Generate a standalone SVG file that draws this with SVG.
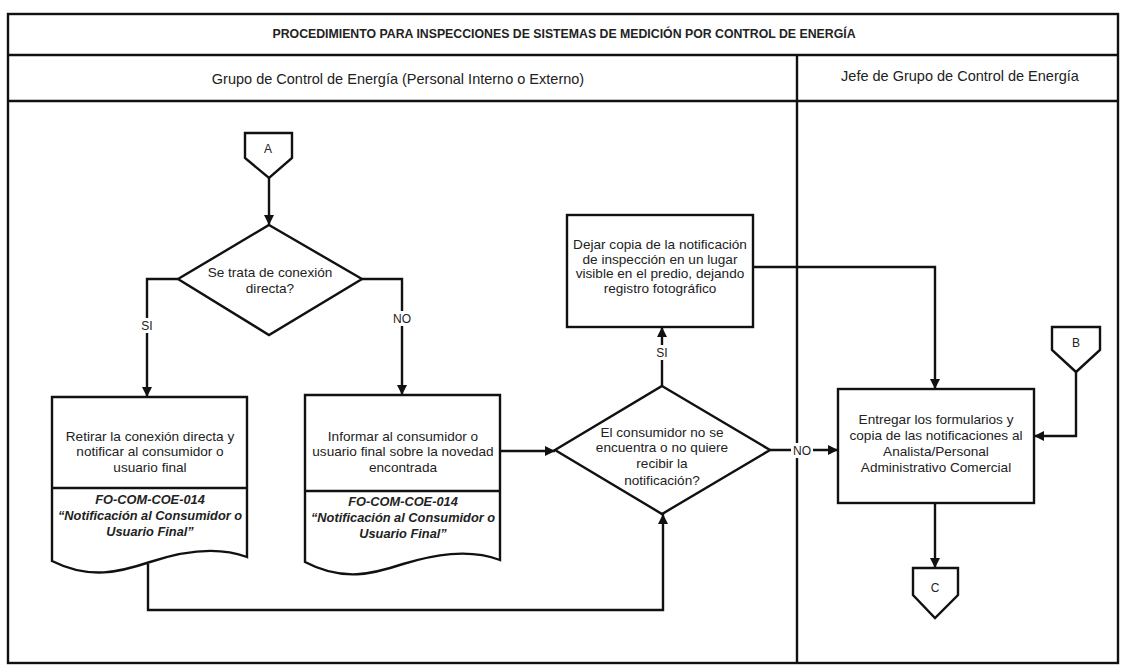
<svg xmlns="http://www.w3.org/2000/svg" width="1123" height="667" viewBox="0 0 1123 667">
<style>
.ln{fill:none;stroke:#111;stroke-width:2.4}
.sh{fill:#fff;stroke:#111;stroke-width:2.4}
.t{font-family:"Liberation Sans",Arial,sans-serif;font-size:13.6px;fill:#222;text-anchor:middle}
.b{font-weight:bold;font-style:italic;font-size:12.8px}
.h{font-family:"Liberation Sans",Arial,sans-serif;font-size:14.5px;fill:#222;text-anchor:middle}
.ttl{font-family:"Liberation Sans",Arial,sans-serif;font-size:12.3px;font-weight:bold;fill:#222;text-anchor:middle}
.lb{font-family:"Liberation Sans",Arial,sans-serif;font-size:12px;fill:#222;text-anchor:middle}
</style>
<defs>
<marker id="ar" viewBox="0 0 10 10" refX="10" refY="5" markerWidth="10" markerHeight="10" markerUnits="userSpaceOnUse" orient="auto">
<path d="M0,0 L10,5 L0,10 Z" fill="#111"/>
</marker>
</defs>
<rect width="1123" height="667" fill="#fff"/>
<g id="frame">
<rect class="ln" x="8" y="14" width="1110" height="649"/>
<line class="ln" x1="8" y1="55" x2="1118" y2="55"/>
<line class="ln" x1="8" y1="101" x2="1118" y2="101"/>
<line class="ln" x1="797" y1="55" x2="797" y2="663"/>
<text class="ttl" x="564" y="38">PROCEDIMIENTO PARA INSPECCIONES DE SISTEMAS DE MEDICIÓN POR CONTROL DE ENERGÍA</text>
<text class="h" x="398" y="84">Grupo de Control de Energía (Personal Interno o Externo)</text>
<text class="h" x="960" y="81">Jefe de Grupo de Control de Energía</text>
</g>
<g id="connectors">
<line class="ln" x1="269" y1="178" x2="269" y2="225" marker-end="url(#ar)"/>
<polyline class="ln" points="178,279 147,279 147,397" marker-end="url(#ar)"/>
<polyline class="ln" points="362,279 402,279 402,395" marker-end="url(#ar)"/>
<line class="ln" x1="500" y1="451" x2="555" y2="451" marker-end="url(#ar)"/>
<polyline class="ln" points="148,564 148,610 663,610 663,514" marker-end="url(#ar)"/>
<line class="ln" x1="662" y1="386" x2="662" y2="327" marker-end="url(#ar)"/>
<line class="ln" x1="770" y1="450" x2="838" y2="450" marker-end="url(#ar)"/>
<polyline class="ln" points="753,267 935,267 935,389" marker-end="url(#ar)"/>
<polyline class="ln" points="1076,372 1076,436 1034,436" marker-end="url(#ar)"/>
<line class="ln" x1="935" y1="503" x2="935" y2="568" marker-end="url(#ar)"/>
<rect x="139" y="318" width="16" height="15" fill="#fff"/>
<text class="lb" x="147" y="330">SI</text>
<rect x="391" y="311" width="22" height="15" fill="#fff"/>
<text class="lb" x="402" y="323">NO</text>
<rect x="654" y="345" width="16" height="15" fill="#fff"/>
<text class="lb" x="662" y="357">SI</text>
<rect x="791" y="443" width="22" height="15" fill="#fff"/>
<text class="lb" x="802" y="455">NO</text>
</g>
<g id="conA">
<path class="sh" d="M245,133 H292 V158 L269,178 L245,158 Z"/>
<text class="lb" x="268" y="153">A</text>
</g>
<g id="dec1">
<path class="sh" d="M269,225 L362,279 L269,335 L178,279 Z"/>
<text class="t" x="270" y="277">Se trata de conexión</text>
<text class="t" x="270" y="293">directa?</text>
</g>
<g id="doc1">
<path class="sh" d="M52,397 H247 V557 C215,545 180,552 150,562 C120,572 90,580 52,561 Z"/>
<line class="ln" x1="52" y1="488" x2="247" y2="488"/>
<text class="t" x="150" y="441">Retirar la conexión directa y</text>
<text class="t" x="150" y="456">notificar al consumidor o</text>
<text class="t" x="150" y="472">usuario final</text>
<text class="t b" x="150" y="504">FO-COM-COE-014</text>
<text class="t b" x="150" y="520">“Notificación al Consumidor o</text>
<text class="t b" x="150" y="536">Usuario Final”</text>
</g>
<g id="doc2">
<path class="sh" d="M305,395 H500 V560 C468,548 433,555 403,564 C373,574 343,582 305,562 Z"/>
<line class="ln" x1="305" y1="491" x2="500" y2="491"/>
<text class="t" x="403" y="441">Informar al consumidor o</text>
<text class="t" x="403" y="456">usuario final sobre la novedad</text>
<text class="t" x="403" y="472">encontrada</text>
<text class="t b" x="403" y="506">FO-COM-COE-014</text>
<text class="t b" x="403" y="522">“Notificación al Consumidor o</text>
<text class="t b" x="403" y="538">Usuario Final”</text>
</g>
<g id="dec2">
<path class="sh" d="M662,386 L770,450 L662,514 L555,450 Z"/>
<text class="t" x="662" y="437">El consumidor no se</text>
<text class="t" x="662" y="452">encuentra o no quiere</text>
<text class="t" x="662" y="468">recibir la</text>
<text class="t" x="662" y="485">notificación?</text>
</g>
<g id="dejar">
<rect class="sh" x="567" y="215" width="186" height="112"/>
<text class="t" x="660" y="249">Dejar copia de la notificación</text>
<text class="t" x="660" y="264">de inspección en un lugar</text>
<text class="t" x="660" y="278">visible en el predio, dejando</text>
<text class="t" x="660" y="293">registro fotográfico</text>
</g>
<g id="conB">
<path class="sh" d="M1052,327 H1100 V350 L1076,372 L1052,350 Z"/>
<text class="lb" x="1076" y="347">B</text>
</g>
<g id="entregar">
<rect class="sh" x="838" y="389" width="196" height="114"/>
<text class="t" x="936" y="424">Entregar los formularios y</text>
<text class="t" x="936" y="440">copia de las notificaciones al</text>
<text class="t" x="936" y="456">Analista/Personal</text>
<text class="t" x="936" y="472">Administrativo Comercial</text>
</g>
<g id="conC">
<path class="sh" d="M913,568 H958 V595 L935,618 L913,595 Z"/>
<text class="lb" x="935" y="592">C</text>
</g>
</svg>
